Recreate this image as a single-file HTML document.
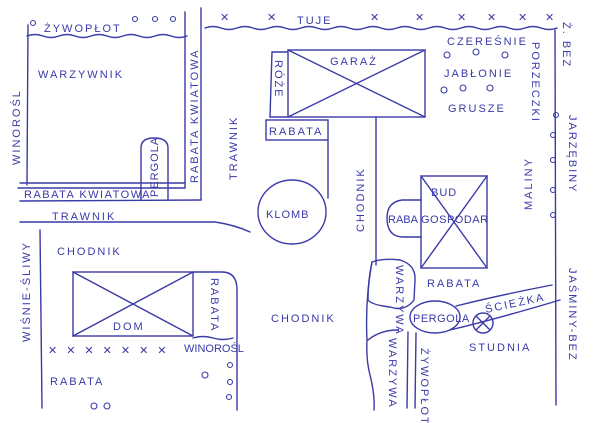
<!DOCTYPE html>
<html><head><meta charset="utf-8"><style>
html,body{margin:0;padding:0;background:#fff;}
svg{display:block}
text{font-family:"Liberation Sans",sans-serif;fill:#3a3aa8;font-size:11px;letter-spacing:2px}
</style></head><body>
<svg width="600" height="423" viewBox="0 0 600 423" xmlns="http://www.w3.org/2000/svg">
<g fill="none" stroke="#3a3aa8" stroke-width="1.4" stroke-linecap="round">
<path d="M27 36 q8 -3 16 0 t16 0 t16 0 t16 0 t16 0 t16 0 t16 0 t16 0 t16 0 t16 0"/>
<path d="M28 25 L27 185"/>
<path d="M185 12 L185 188"/>
<path d="M201 8 L201 200"/>
<path d="M20 183 L185 183"/>
<path d="M18 188 L185 188"/>
<path d="M20 201 L201 200"/>
<path d="M141 200 L141 148 Q141 138 154 138 Q168 138 168 148 L168 200"/>
<path d="M20 222 L215 222 Q235 225 250 232"/>
<path d="M40 230 L42 408"/>
<path d="M205 28 q8 -3 16 0 t16 0 t16 0 t16 0 t16 0 t16 0 t16 0 t16 0 t16 0 t16 0 t16 0 t16 0 t16 0 t16 0 t16 0 t16 0 t16 0 t16 0 t16 0 t16 0 t16 0 t16 0"/>
<path d="M555 30 L556 405"/>
<rect x="288" y="50" width="137" height="67"/>
<path d="M288 50 L425 117 M425 50 L288 117"/>
<path d="M287 52 L272 52 L270 117 L287 117"/>
<rect x="266" y="120" width="62" height="20"/>
<path d="M328 140 L328 198"/>
<path d="M376 118 L376 265"/>
<ellipse cx="292" cy="212" rx="34" ry="32"/>
<rect x="421" y="176" width="66" height="92"/>
<path d="M421 176 L487 268 M487 176 L421 268"/>
<path d="M421 200 L402 200 Q387 202 387 218 Q387 236 402 237 L421 237"/>
<path d="M372 262 Q383 258 400 260 Q416 265 415 280 L414 300 Q405 312 390 307 Q372 305 368 300 Q368 280 372 262"/>
<ellipse cx="435" cy="317" rx="25" ry="16"/>
<path d="M372 262 Q365 300 367 340 Q366 360 370 375 Q375 395 374 410"/>
<path d="M368 340 Q380 330 398 330"/>
<path d="M408 332 L407 408 M416 333 L415 408"/>
<path d="M456 306 Q500 295 552 285 M450 330 Q500 318 560 300"/>
<circle cx="483" cy="323" r="10"/>
<path d="M476 316 L490 330 M490 316 L476 330"/>
<rect x="73" y="272" width="120" height="64"/>
<path d="M73 272 L193 336 M193 272 L73 336"/>
<path d="M193 272 L222 272 Q237 272 237 290 L237 410"/>
<path d="M193 338 q10 -3 20 0 t20 0"/>
</g>
<g fill="none" stroke="#3a3aa8" stroke-width="1.1">
<circle cx="33" cy="23" r="2.5"/><circle cx="135" cy="19" r="2.5"/><circle cx="155" cy="19" r="2.5"/><circle cx="173" cy="19" r="2.5"/>
<circle cx="447" cy="55" r="3"/><circle cx="476" cy="52" r="3"/><circle cx="505" cy="55" r="3"/>
<circle cx="444" cy="90" r="3"/><circle cx="463" cy="88" r="3"/><circle cx="490" cy="88" r="3"/>
<circle cx="556" cy="115" r="2.5"/><circle cx="553" cy="135" r="2.5"/><circle cx="553" cy="160" r="2.5"/><circle cx="553" cy="190" r="2.5"/><circle cx="553" cy="215" r="2.5"/>
<circle cx="205" cy="375" r="3"/><circle cx="230" cy="365" r="2.5"/><circle cx="230" cy="382" r="2.5"/><circle cx="229" cy="397" r="2.5"/>
<circle cx="94" cy="406" r="3"/><circle cx="107" cy="406" r="3"/>
</g>
<g fill="#3a3aa8" font-size="12">
<text x="220" y="21">✕</text><text x="267" y="21">✕</text><text x="370" y="21">✕</text><text x="415" y="21">✕</text><text x="457" y="21">✕</text><text x="487" y="21">✕</text><text x="518" y="21">✕</text><text x="545" y="21">✕</text>
<text x="48" y="354" style="letter-spacing:9px">✕✕✕✕✕✕✕</text>
</g>
<text x="44" y="32" font-size="10">ŻYWOPŁOT</text>
<text x="38" y="78" font-size="12">WARZYWNIK</text>
<text x="24" y="198" font-size="8" style="letter-spacing:1.5px">RABATA KWIATOWA</text>
<text transform="translate(20,165) rotate(-90)" font-size="9">WINOROŚL</text>
<text transform="translate(198,183) rotate(-90)" font-size="9">RABATA KWIATOWA</text>
<text transform="translate(158,197) rotate(-90)" font-size="8" style="letter-spacing:1px">PERGOLA</text>
<text transform="translate(237,180) rotate(-90)" font-size="12">TRAWNIK</text>
<text x="52" y="220" font-size="12">TRAWNIK</text>
<text x="297" y="24" font-size="11">TUJE</text>
<text x="330" y="65" font-size="10">GARAŻ</text>
<text transform="translate(275,60) rotate(90)" font-size="8">RÓŻE</text>
<text x="269" y="135" font-size="9">RABATA</text>
<text x="266" y="218" font-size="10" style="letter-spacing:1px">KLOMB</text>
<text transform="translate(364,232) rotate(-90)" font-size="11">CHODNIK</text>
<text x="447" y="45" font-size="10">CZEREŚNIE</text>
<text x="444" y="77" font-size="11">JABŁONIE</text>
<text x="448" y="112" font-size="10">GRUSZE</text>
<text transform="translate(532,42) rotate(90)" font-size="8">PORZECZKI</text>
<text transform="translate(532,210) rotate(-90)" font-size="9">MALINY</text>
<text transform="translate(563,22) rotate(90)" font-size="9">Ż. BEZ</text>
<text transform="translate(569,115) rotate(90)" font-size="10">JARZĘBINY</text>
<text transform="translate(569,268) rotate(90)" font-size="10">JAŚMINY-BEZ</text>
<text x="431" y="196" font-size="9" style="letter-spacing:1px">BUD</text>
<text x="388" y="223" font-size="8" style="letter-spacing:0">RABA</text>
<text x="421" y="223" font-size="9" style="letter-spacing:0.5px">GOSPODAR</text>
<text x="427" y="287" font-size="11">RABATA</text>
<text transform="translate(396,265) rotate(90)" font-size="8">WARZYWA</text>
<text x="413" y="322" font-size="9" style="letter-spacing:0.5px">PERGOLA</text>
<text x="486" y="313" font-size="9" transform="rotate(-12 486 313)">ŚCIEŻKA</text>
<text x="469" y="351" font-size="10">STUDNIA</text>
<text transform="translate(389,338) rotate(90)" font-size="8">WARZYWA</text>
<text transform="translate(421,348) rotate(90)" font-size="8">ŻYWOPŁOT</text>
<text x="57" y="255" font-size="11">CHODNIK</text>
<text x="271" y="322" font-size="11">CHODNIK</text>
<text x="113" y="330" font-size="11">DOM</text>
<text transform="translate(211,278) rotate(90)" font-size="10">RABATA</text>
<text x="184" y="352" font-size="8" style="letter-spacing:0">WINOROŚL</text>
<text x="50" y="385" font-size="15">RABATA</text>
<text transform="translate(30,342) rotate(-90)" font-size="10">WIŚNIE-ŚLIWY</text>
</svg>
</body></html>
